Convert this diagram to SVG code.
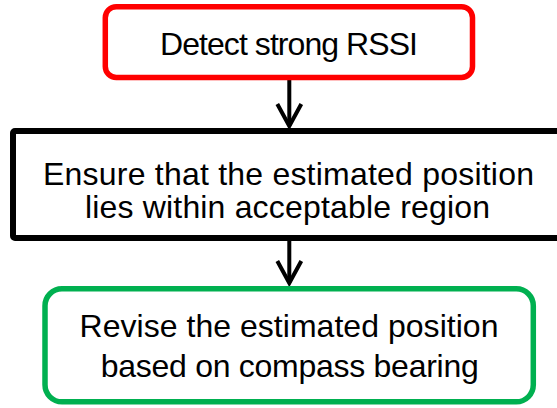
<svg xmlns="http://www.w3.org/2000/svg" width="557" height="408" viewBox="0 0 557 408">
  <style>
    .box { fill: #FFFFFF; }
    .start { stroke: #FF0000; stroke-width: 5.5; }
    .step { stroke: #000000; stroke-width: 6; }
    .end { stroke: #00B050; stroke-width: 5.5; }
    .label { font-family: "Liberation Sans", Arial, sans-serif; font-size: 32px; fill: #000000; text-anchor: middle; }
    .link { stroke: #000000; stroke-width: 4; fill: none; }
  </style>
  <defs>
    <!-- open chevron arrowhead, tip at the path end -->
    <marker id="chevron" markerUnits="userSpaceOnUse" orient="auto" refX="0" refY="0" markerWidth="30" markerHeight="30" overflow="visible">
      <path d="M-22,-12 L0,0 L-22,12" fill="none" stroke="#000000" stroke-width="4" stroke-linejoin="miter"/>
    </marker>
  </defs>
  <rect width="557" height="408" fill="#FFFFFF"/>

  <g id="connectors">
    <path class="link" d="M289.3,80 L289.3,126" marker-end="url(#chevron)"/>
    <path class="link" d="M289.3,240 L289.3,283" marker-end="url(#chevron)"/>
  </g>

  <g id="detect">
    <rect class="box start" x="105.3" y="6.7" width="367.2" height="70.8" rx="11" ry="11"/>
    <text class="label" x="289" y="55" textLength="258" lengthAdjust="spacing">Detect strong RSSI</text>
  </g>

  <g id="ensure">
    <rect class="box step" x="13" y="131" width="552" height="107" rx="2" ry="2"/>
    <text class="label" x="288.5" y="185" textLength="491" lengthAdjust="spacing">Ensure that the estimated position</text>
    <text class="label" x="287.5" y="218" textLength="405" lengthAdjust="spacing">lies within acceptable region</text>
  </g>

  <g id="revise">
    <rect class="box end" x="45" y="288.8" width="488.3" height="113" rx="17" ry="17"/>
    <text class="label" x="289" y="337" textLength="419" lengthAdjust="spacing">Revise the estimated position</text>
    <text class="label" x="289.7" y="377" textLength="378" lengthAdjust="spacing">based on compass bearing</text>
  </g>
</svg>
